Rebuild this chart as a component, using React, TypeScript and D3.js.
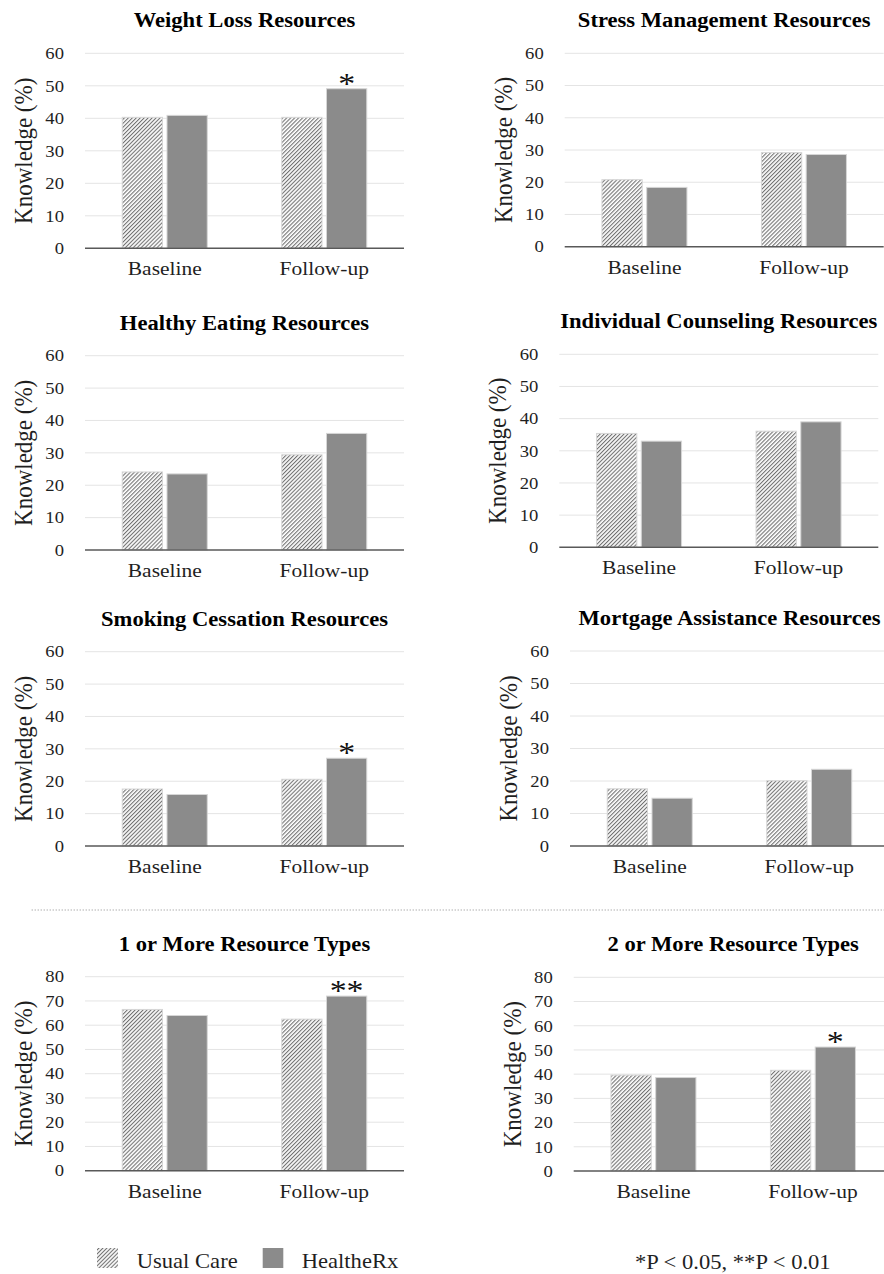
import React from "react";
import * as d3 from "d3";

// ---------- data ----------
const categories = ["Baseline", "Follow-up"];
const seriesNames = ["Usual Care", "HealtheRx"];
const panelTitles = [
  "Weight Loss Resources",
  "Stress Management Resources",
  "Healthy Eating Resources",
  "Individual Counseling Resources",
  "Smoking Cessation Resources",
  "Mortgage Assistance Resources",
  "1 or More Resource Types",
  "2 or More Resource Types",
];
// [Baseline, Follow-up] per panel
const usualCareValues = [
  [40.3, 40.3],
  [20.8, 29.2],
  [24.1, 29.4],
  [35.4, 36.1],
  [17.6, 20.6],
  [17.6, 20.1],
  [66.5, 62.5],
  [39.6, 41.6],
];
const healtheRxValues = [
  [40.9, 49.1],
  [18.4, 28.6],
  [23.5, 36.0],
  [33.0, 39.0],
  [15.9, 27.1],
  [14.7, 23.6],
  [64.0, 72.0],
  [38.6, 51.2],
];
// significance marker on the Follow-up HealtheRx bar
const followUpMarks = ["*", "", "", "", "*", "", "**", "*"];
const yMaxes = [60, 60, 60, 60, 60, 60, 80, 80];
const yAxisLabel = "Knowledge (%)";
const pValueNote = "*P < 0.05, **P < 0.01";

// ---------- layout ----------
const W = 884;
const H = 1274;
const PLOT_W = 319;
const panelLayout = [
  { left: 85, top: 53.3, bottom: 248.3 },
  { left: 564.7, top: 53.3, bottom: 246.7 },
  { left: 85, top: 355.7, bottom: 550 },
  { left: 559.3, top: 354.3, bottom: 547.3 },
  { left: 85, top: 651.7, bottom: 846 },
  { left: 570, top: 651, bottom: 846 },
  { left: 85, top: 976.7, bottom: 1170.7 },
  { left: 573.7, top: 977.3, bottom: 1171 },
];

const FONT = "'Liberation Serif', 'Times New Roman', serif";
const SX = 1.13;
const SOLID = "#8b8b8b";
const GRID = "#e4e4e4";
const AXIS = "#595959";
const TEXT = "#1f1f1f";

type TProps = {
  x: number;
  y: number;
  size: number;
  anchor?: string;
  weight?: string | number;
  rotate?: boolean;
  dy?: string;
  fill?: string;
  children: React.ReactNode;
};

function T({ x, y, size, anchor = "middle", weight = "normal", rotate, dy, fill = TEXT, children }: TProps) {
  return (
    <text
      transform={`translate(${x},${y}) scale(${SX},1)${rotate ? " rotate(-90)" : ""}`}
      textAnchor={anchor}
      fontFamily={FONT}
      fontSize={size}
      fontWeight={weight}
      dy={dy}
      fill={fill}
    >
      {children}
    </text>
  );
}

function Panel({ i }: { i: number }) {
  const L = panelLayout[i];
  const yMax = yMaxes[i];
  const y = d3.scaleLinear().domain([0, yMax]).range([L.bottom, L.top]);
  const ticks = d3.range(0, yMax + 1, 10);
  const x0 = d3
    .scaleBand<string>()
    .domain(categories)
    .range([L.left, L.left + PLOT_W])
    .paddingInner(0.467)
    .paddingOuter(0.2335);
  const x1 = d3
    .scaleBand<string>()
    .domain(seriesNames)
    .range([0, x0.bandwidth()])
    .paddingInner(0.1);
  const vals = [usualCareValues[i], healtheRxValues[i]];
  const cx = L.left + PLOT_W / 2;
  const cy = (L.top + L.bottom) / 2;
  return (
    <g>
      <T x={cx} y={L.top - 26} size={20} weight="bold" fill="#000">
        {panelTitles[i]}
      </T>
      {ticks.map((t) => (
        <g key={t}>
          {t > 0 && (
            <line x1={L.left} x2={L.left + PLOT_W} y1={y(t)} y2={y(t)} stroke={GRID} strokeWidth={1} />
          )}
          <T x={L.left - 21} y={y(t)} size={16.5} anchor="end" dy="0.35em">
            {t}
          </T>
        </g>
      ))}
      <T x={L.left - 62} y={cy} size={23} rotate dy="0.35em">
        {yAxisLabel}
      </T>
      {categories.map((c, ci) =>
        seriesNames.map((s, si) => {
          const v = vals[si][ci];
          const bx = (x0(c) as number) + (x1(s) as number);
          return (
            <rect
              key={c + s}
              x={bx}
              y={y(v)}
              width={x1.bandwidth()}
              height={y(0) - y(v)}
              fill={si === 0 ? "url(#hatch)" : SOLID}
              stroke="#d6d6d6"
              strokeWidth={1}
            />
          );
        })
      )}
      {followUpMarks[i] && (
        <T
          x={(x0("Follow-up") as number) + (x1("HealtheRx") as number) + x1.bandwidth() / 2}
          y={y(healtheRxValues[i][1]) + 4}
          size={30}
          fill="#111"
        >
          {followUpMarks[i]}
        </T>
      )}
      <line x1={L.left} x2={L.left + PLOT_W} y1={y(0)} y2={y(0)} stroke={AXIS} strokeWidth={1.5} />
      {categories.map((c) => (
        <T key={c} x={(x0(c) as number) + x0.bandwidth() / 2} y={y(0) + 27} size={19}>
          {c}
        </T>
      ))}
    </g>
  );
}

export default function App() {
  return (
    <svg
      width={W}
      height={H}
      viewBox={`0 0 ${W} ${H}`}
      style={{ position: "absolute", left: 0, top: 0, display: "block", background: "#fff" }}
    >
      <defs>
        <pattern
          id="hatch"
          patternUnits="userSpaceOnUse"
          width={2.8}
          height={10}
          patternTransform="rotate(45)"
        >
          <rect width={2.8} height={10} fill="#fff" />
          <line x1={0.6} y1={0} x2={0.6} y2={10} stroke="#5c5c5c" strokeWidth={0.95} />
        </pattern>
      </defs>
      <rect width={W} height={H} fill="#fff" />
      {panelTitles.map((_, i) => (
        <Panel key={i} i={i} />
      ))}
      <line x1={31.7} x2={W} y1={910} y2={910} stroke="#8a8a8a" strokeWidth={1} strokeDasharray="1 2" />
      {/* legend */}
      <rect x={97} y={1248} width={21} height={20} fill="url(#hatch)" />
      <T x={136.7} y={1268} size={20} anchor="start">
        {seriesNames[0]}
      </T>
      <rect x={262.7} y={1248} width={20.6} height={20} fill={SOLID} />
      <T x={301.7} y={1268} size={20} anchor="start">
        {seriesNames[1]}
      </T>
      <T x={732.8} y={1269} size={20}>
        {pValueNote}
      </T>
    </svg>
  );
}
